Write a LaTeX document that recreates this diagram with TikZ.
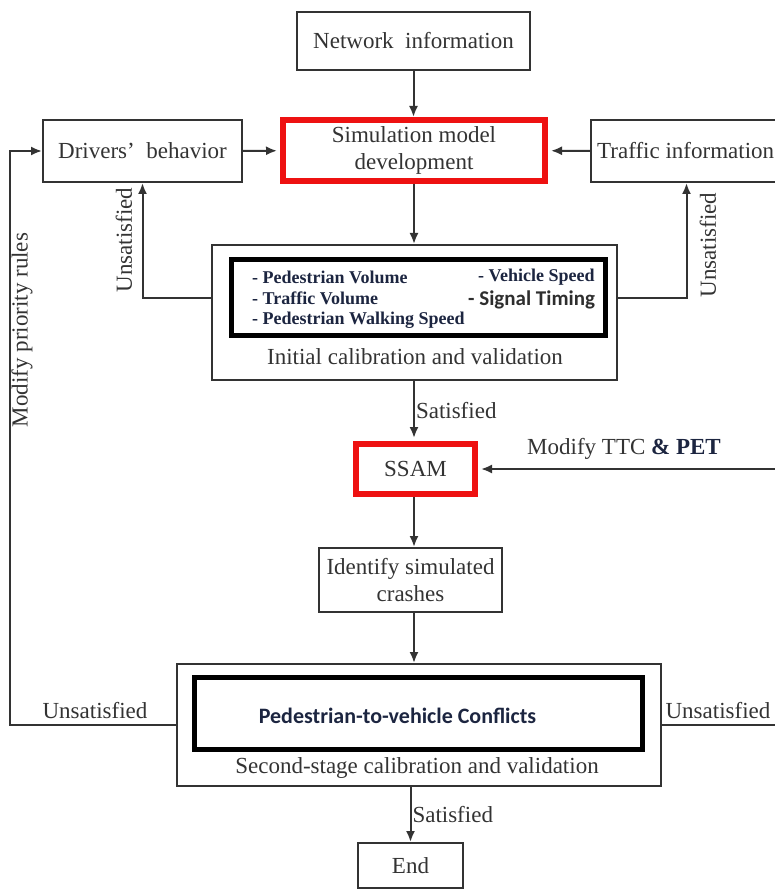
\documentclass[tikz,border=0pt]{standalone}
\usepackage{fontspec}
\setmainfont{Liberation Serif}
\newfontfamily\calfont{Carlito}
\usetikzlibrary{arrows.meta}
\definecolor{fcInk}{HTML}{333333}
\definecolor{fcRed}{HTML}{EE1111}
\definecolor{fcNavy}{HTML}{1C2540}

\begin{document}
\begin{tikzpicture}[x=1pt,y=-1pt,
		box/.style={draw=fcInk,line width=2pt,inner sep=0pt,align=center,text=fcInk,font=\fontsize{23}{27}\selectfont},
		redbox/.style={box,draw=fcRed,line width=6pt},
		thickbox/.style={draw=black,line width=5pt,inner sep=0pt},
		flow/.style={draw=fcInk,line width=2pt,-{Latex[length=11pt,width=9pt]}},
		lab/.style={text=fcInk,font=\fontsize{23}{27}\selectfont,inner sep=1pt},
		item/.style={font=\fontsize{18}{21}\selectfont\bfseries,text=fcNavy,anchor=west,inner sep=0pt}]
		\useasboundingbox (0,0) rectangle (774,890);
		% boxes
		\node[box,minimum width=233,minimum height=58] (net) at (413.5,41) {Network\ \ information};
		\node[redbox,minimum width=262,minimum height=61] (sim) at (414,150.5) {Simulation model\\development};
		\node[box,minimum width=199,minimum height=62] (drv) at (142.5,151) {Drivers’\ \ behavior};
		\node[box,minimum width=199,minimum height=62] (trf) at (690.5,151) {};
		\node[lab,anchor=west] at (596,151) {Traffic information};
		\node[box,minimum width=405,minimum height=135] (init) at (414.5,312.5) {};
		\node[thickbox,minimum width=374,minimum height=76] (crit) at (418.5,297.5) {};
		\node[item] at (252,277) {- Pedestrian Volume};
		\node[item] at (252,298) {- Traffic Volume};
		\node[item] at (252,320) {- Pedestrian Walking Speed};
		\node[item] at (478,277) {- Vehicle Speed};
		\node[item,font=\calfont\fontsize{21}{25}\selectfont\bfseries,text=fcInk!90!black] at (468,300) {- Signal Timing};
		\node[lab] at (415,357) {Initial calibration and validation};
		\node[redbox,minimum width=119,minimum height=50] (ssam) at (415.5,469) {SSAM};
		\node[box,minimum width=183,minimum height=64] (ident) at (410.5,580) {Identify simulated\\crashes};
		\node[box,minimum width=484,minimum height=122] (sec) at (419,725) {};
		\node[thickbox,minimum width=448,minimum height=72] (conf) at (418.5,713) {};
		\node[font=\calfont\fontsize{22}{26}\selectfont\bfseries,text=fcNavy] at (397.5,716) {Pedestrian-to-vehicle Conflicts};
		\node[lab] at (417,768) {Second-stage calibration and validation};
		\node[box,minimum width=105,minimum height=45] (end) at (410.5,865.5) {End};
		% turning points of the outer loops
		\coordinate (lft) at (10,500);
		\coordinate (rgt) at (784,600);
		% connectors
		\draw[flow] (net) -- (net |- sim.north);
		\draw[flow,shorten >=3pt] (drv) -- (sim);
		\draw[flow,shorten >=3pt] (trf) -- (sim);
		\draw[flow] (sim) -- (sim |- init.north);
		\draw[flow] (crit.west -| init.west) -| (drv.south);
		\draw[flow] (crit.east -| init.east) -| ([xshift=-4pt]trf.south);
		\draw[flow,shorten >=3pt] (init.south -| sim) -- (sim |- ssam.north)
			node[lab,midway,right] {Satisfied};
		\draw[flow] (ssam.south -| sim) -- (sim |- ident.north);
		\draw[flow] (ident.south -| sim) -- (sim |- sec.north);
		\draw[flow] (sec.south -| end) -- (end)
			node[lab,midway,right] {Satisfied};
		\draw[flow] (sec.west) -| (lft) |- (drv.west);
		\draw[flow,shorten >=3pt] (sec.east) -| (rgt) |- (ssam.east);
		% loop labels
		\node[lab,rotate=90] at (124,240) {Unsatisfied};
		\node[lab,rotate=90] at (708,245) {Unsatisfied};
		\node[lab,rotate=90] at (22,330) {Modify priority rules};
		\node[lab] at (95,711) {Unsatisfied};
		\node[lab] at (718,711) {Unsatisfied};
		\node[lab] at (624,449) {Modify TTC \textcolor{fcNavy}{\bfseries\& PET}};
	\end{tikzpicture}
\end{document}
